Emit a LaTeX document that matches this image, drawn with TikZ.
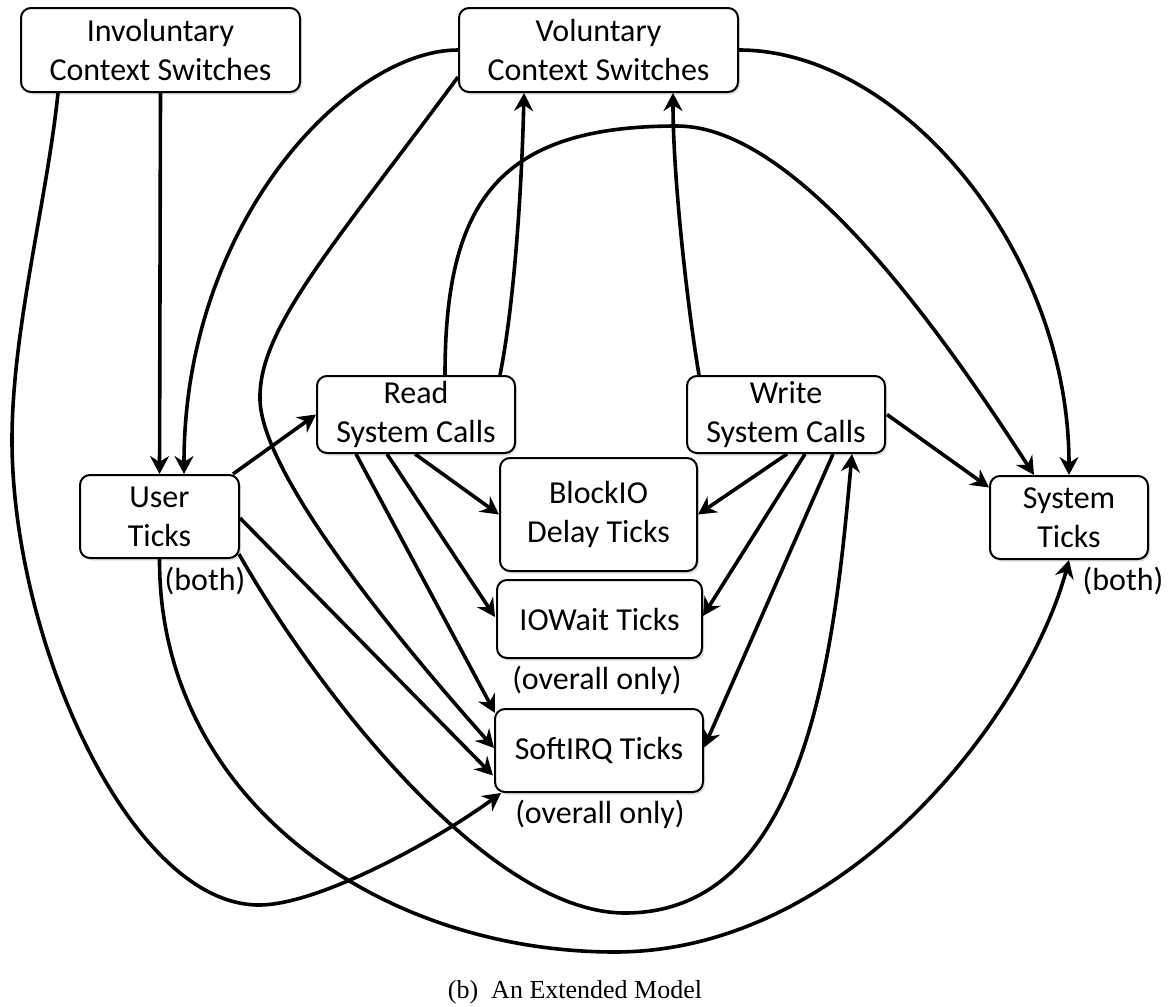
\documentclass[tikz,border=0pt]{standalone}
\usepackage{fontspec}
\setmainfont{Carlito}
\newfontfamily\capfont{Liberation Serif}
\usetikzlibrary{arrows.meta,calc,shadows}
\begin{document}
\begin{tikzpicture}[x=1pt,y=-1pt,
  box/.style={draw=black, line width=2pt, rounded corners=10pt, fill=white,
    align=center, inner sep=0pt, font=\fontsize{32pt}{39pt}\selectfont,
    drop shadow={shadow xshift=2pt, shadow yshift=-2.5pt, opacity=0.25}},
  lab/.style={inner sep=0pt, font=\fontsize{32pt}{39pt}\selectfont},
  arr/.style={line width=3.6pt, -{Stealth[length=18pt,width=19pt,inset=6pt]}}]
\useasboundingbox (0,0) rectangle (1176,1007);

% states
\node[box, minimum width=279pt, minimum height=84pt] (inv) at (160.5,50)
  {Involuntary\\Context Switches};
\node[box, minimum width=279pt, minimum height=84pt] (vol) at (598.5,50)
  {Voluntary\\Context Switches};
\node[box, minimum width=198pt, minimum height=77pt] (read) at (416,414.5)
  {Read\\System Calls};
\node[box, minimum width=198pt, minimum height=77pt] (write) at (786,414.5)
  {Write\\System Calls};
\node[box, minimum width=159pt, minimum height=83pt] (user) at (159.5,516.5)
  {User\\Ticks};
\node[box, minimum width=197pt, minimum height=113pt] (block) at (598.5,514.5)
  {BlockIO\\Delay Ticks};
\node[box, minimum width=158pt, minimum height=83pt] (sys) at (1069,517.5)
  {System\\Ticks};
\node[box, minimum width=205pt, minimum height=78pt] (iow) at (599.5,619)
  {IOWait Ticks};
\node[box, minimum width=208pt, minimum height=83pt] (soft) at (599,750.5)
  {SoftIRQ Ticks};

% annotations
\node[lab] (ub) at (205,581) {(both)};
\node[lab] (sb) at (1123,581) {(both)};
\node[lab] (io) at (597,680) {(overall only)};
\node[lab] (so) at (600,814) {(overall only)};
\node[anchor=base, inner sep=0pt, font=\capfont\fontsize{26pt}{30pt}\selectfont] (cap)
  at (575,998) {(b)~~An Extended Model};

% transitions
\draw[arr] (inv.south) -- (user.north);
\draw[arr] ($(inv.south west)+(38,0)$) .. controls (47,200) and (12,330) .. (12,440)
  .. controls (12,640) and (130,905) .. (259,905)
  .. controls (320,905) and (440,838) .. ($(soft.south west)+(7,0)$);
\draw[arr] (vol.west) .. controls (350,50) and (184,220) .. ($(user.north)+(24.5,0)$);
\draw[arr] ($(vol.south west)+(0,-16)$) .. controls (330,250) and (258,330) .. (260,400)
  .. controls (262,470) and (380,620) .. ($(soft.west)+(0,-2.5)$);
\draw[arr] (vol.east) .. controls (900,50) and (1069,250) .. (sys.north);
\draw[arr] ($(read.north east)+(-16,0)$) .. controls (515,300) and (522,180) .. ($(vol.south west)+(66,0)$);
\draw[arr] ($(read.north)+(29,0)$) .. controls (445,200) and (500,126) .. (677,126)
  .. controls (800,126) and (948,342) .. ($(sys.north)+(-35,0)$);
\draw[arr] ($(write.north west)+(13,0)$) .. controls (688,310) and (673,180) .. ($(vol.south)+(74.5,0)$);
\draw[arr] ($(user.north east)+(-7,0)$) -- (read.west);
\draw[arr] ($(read.south)+(-1,0)$) -- (block.west);
\draw[arr] ($(read.south)+(-29,0)$) -- ($(iow.west)+(-1,-2)$);
\draw[arr] ($(read.south)+(-60,0)$) -- ($(soft.north west)+(1,5)$);
\draw[arr] ($(write.south)+(1,0)$) -- (block.east);
\draw[arr] ($(write.south)+(19,0)$) -- ($(iow.east)+(0,-3)$);
\draw[arr] ($(write.south)+(47,0)$) -- ($(soft.east)+(0,-3)$);
\draw[arr] ($(write.east)+(1,0)$) -- ($(sys.west)+(0,-30)$);
\draw[arr] ($(user.east)+(0,1.5)$) -- ($(soft.west)+(-1,25)$);
\draw[arr] ($(user.south east)+(-1,-5)$) .. controls (310,680) and (485,913) .. (625,913)
  .. controls (810,913) and (835,640) .. ($(write.south)+(66,0)$);
\draw[arr] (user.south) .. controls (159,800) and (380,952) .. (615,952)
  .. controls (850,952) and (1029,710) .. (sys.south);
\end{tikzpicture}
\end{document}
